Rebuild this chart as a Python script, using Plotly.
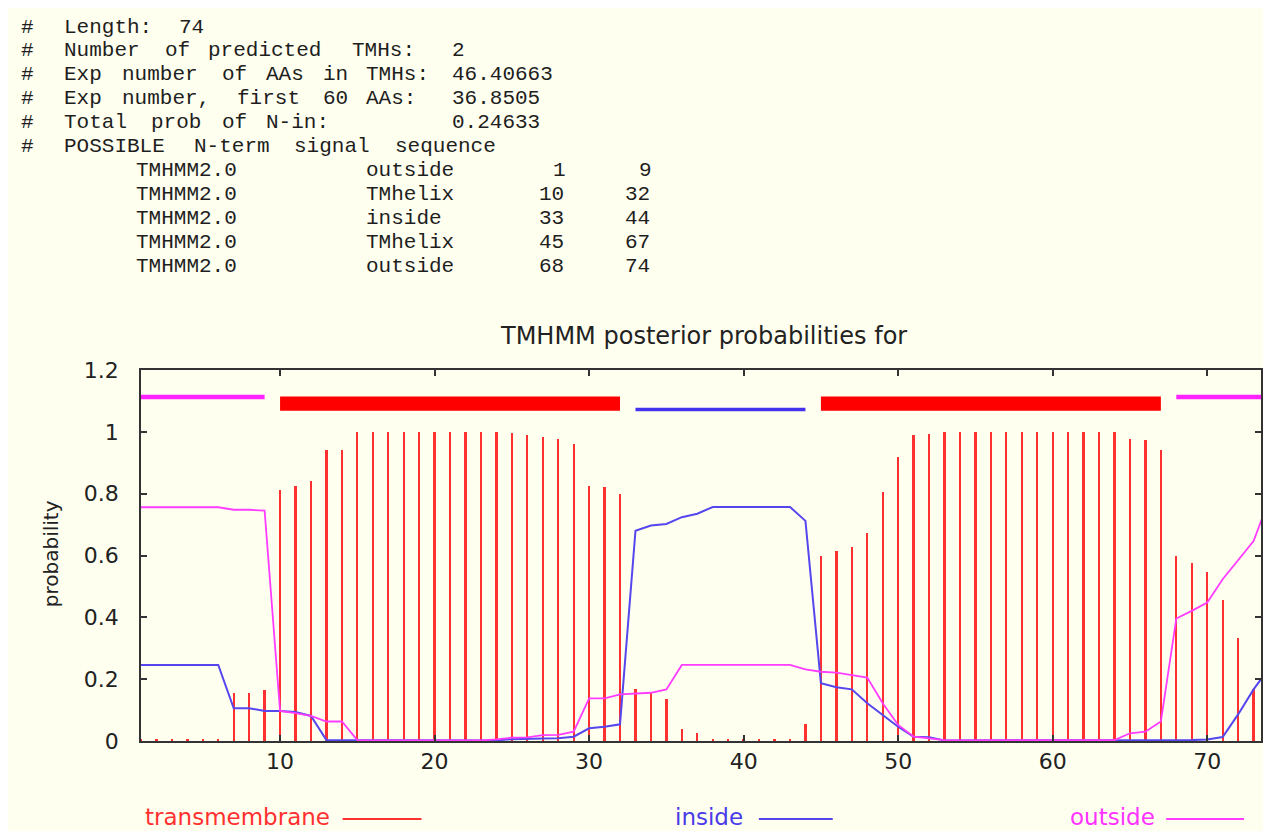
import re
import plotly.graph_objects as go

# ---------------- data ----------------
seq_length = 74
n_tmh = 2
exp_aa_tmh = "46.40663"
exp_first60 = "36.8505"
prob_n_in = "0.24633"

region_types = ["outside", "TMhelix", "inside", "TMhelix", "outside"]
region_starts = [1, 10, 33, 45, 68]
region_ends = [9, 32, 44, 67, 74]

positions = list(range(1, seq_length + 1))

tm_prob = [0.005, 0.005, 0.005, 0.005, 0.005, 0.005, 0.154, 0.154, 0.165, 0.812,
           0.826, 0.841, 0.942, 0.942, 1.0, 1.0, 1.0, 1.0, 1.0, 1.0,
           1.0, 1.0, 1.0, 1.0, 0.995, 0.989, 0.984, 0.978, 0.96, 0.826,
           0.821, 0.80, 0.167, 0.154, 0.135, 0.039, 0.025, 0.006, 0.005, 0.005,
           0.005, 0.005, 0.005, 0.054, 0.597, 0.613, 0.627, 0.673, 0.806, 0.92,
           0.989, 0.994, 0.999, 1.0, 1.0, 1.0, 1.0, 1.0, 1.0, 1.0,
           1.0, 1.0, 1.0, 0.999, 0.978, 0.974, 0.942, 0.60, 0.575, 0.546,
           0.457, 0.334, 0.167, 0.005]

inside_prob = [0.246, 0.246, 0.246, 0.246, 0.246, 0.246, 0.106, 0.106, 0.097, 0.097,
               0.094, 0.081, 0.003, 0.003, 0.002, 0.002, 0.002, 0.002, 0.002, 0.002,
               0.002, 0.002, 0.002, 0.002, 0.006, 0.008, 0.008, 0.009, 0.014, 0.041,
               0.046, 0.054, 0.680, 0.697, 0.702, 0.724, 0.735, 0.757, 0.757, 0.757,
               0.757, 0.757, 0.757, 0.712, 0.187, 0.174, 0.167, 0.122, 0.084, 0.046,
               0.014, 0.012, 0.002, 0.002, 0.002, 0.002, 0.002, 0.002, 0.002, 0.002,
               0.002, 0.002, 0.002, 0.003, 0.003, 0.003, 0.003, 0.003, 0.003, 0.005,
               0.013, 0.086, 0.167, 0.235]

outside_prob = [0.756, 0.756, 0.756, 0.756, 0.756, 0.756, 0.748, 0.748, 0.745, 0.097,
                0.090, 0.081, 0.063, 0.063, 0.003, 0.002, 0.002, 0.002, 0.002, 0.002,
                0.002, 0.002, 0.002, 0.005, 0.011, 0.012, 0.019, 0.020, 0.030, 0.138,
                0.138, 0.151, 0.154, 0.156, 0.167, 0.246, 0.246, 0.246, 0.246, 0.246,
                0.246, 0.246, 0.246, 0.232, 0.224, 0.221, 0.214, 0.205, 0.122, 0.052,
                0.014, 0.009, 0.003, 0.002, 0.002, 0.002, 0.002, 0.002, 0.002, 0.002,
                0.002, 0.002, 0.002, 0.003, 0.025, 0.030, 0.063, 0.396, 0.421, 0.448,
                0.523, 0.585, 0.647, 0.780]

legend_labels = ["transmembrane", "inside", "outside"]

# ---------------- style ----------------
OFF = 8                      # page body margin of the html
W, H = 1263 - OFF, 831 - OFF
ML, MR, MT, MB = 141 - OFF, 0, 370 - OFF, 90
PX_PER_RES = 15.48           # horizontal scale of the reference
CREAM = "#fffff0"
RED = "#ff3030"
BLUE = "#5546ee"
MAGENTA = "#ff3cff"
AXIS = "#333333"
SANS = "DejaVu Sans"
MONO = "Liberation Mono"
COL_W = 14.4                 # width of one character column of the header block
COL_X0 = 19                  # page x of column 0
ROW_Y0, ROW_DY = 27, 23.9    # page y of the first header row and row step

PW = W - ML - MR
PH = H - MT - MB
X_MAX = 1 + PW / PX_PER_RES  # visible part of the residue axis


def pxx(px):
    """page pixel x -> paper x"""
    return (px - OFF - ML) / PW


def pxy(py):
    """page pixel y -> paper y"""
    return (H - MB - (py - OFF)) / PH


fig = go.Figure()
fig.add_bar(x=positions, y=tm_prob, width=0.15,
            marker=dict(color=RED, line=dict(width=0)), name=legend_labels[0])
fig.add_scatter(x=positions, y=inside_prob, mode="lines",
                line=dict(color=BLUE, width=2), name=legend_labels[1])
fig.add_scatter(x=positions, y=outside_prob, mode="lines",
                line=dict(color=MAGENTA, width=1.8), name=legend_labels[2])

shapes = []
# topology bars derived from the region table
for rtype, s, e in zip(region_types, region_starts, region_ends):
    if rtype == "TMhelix":
        shapes.append(dict(type="rect", xref="x", yref="y", x0=s, x1=e,
                           y0=1.068, y1=1.114, fillcolor="#ff0000",
                           line=dict(width=0), layer="above"))
    elif rtype == "inside":
        shapes.append(dict(type="line", xref="x", yref="y", x0=s, x1=e,
                           y0=1.072, y1=1.072, line=dict(color="#4433ee", width=3.5)))
    else:
        shapes.append(dict(type="line", xref="x", yref="y", x0=s, x1=e,
                           y0=1.113, y1=1.113, line=dict(color="#ff22ff", width=4.5)))

annotations = []
# header text block (monospace columns; each word placed on its column)
header_lines = [
    "#  Length: %d" % seq_length,
    "#  Number of predicted TMHs:  %d" % n_tmh,
    "#  Exp number of AAs in TMHs: %s" % exp_aa_tmh,
    "#  Exp number, first 60 AAs:  %s" % exp_first60,
    "#  Total prob of N-in:        %s" % prob_n_in,
    "#  POSSIBLE N-term signal sequence",
]
for rtype, s, e in zip(region_types, region_starts, region_ends):
    header_lines.append(" " * 8 + "TMHMM2.0" + " " * 8 + rtype.ljust(8) + "%6d%6d" % (s, e))

for i, line in enumerate(header_lines):
    for m in re.finditer(r"\S+", line):
        annotations.append(dict(text=m.group(0), xref="paper", yref="paper",
                                x=pxx(COL_X0 + m.start() * COL_W), y=pxy(ROW_Y0 + ROW_DY * i),
                                xanchor="left", yanchor="middle", showarrow=False,
                                font=dict(family=MONO, size=21, color="#1e1e1e")))

# title
annotations.append(dict(text="TMHMM posterior probabilities for", xref="paper", yref="paper",
                        x=pxx(705), y=pxy(336), xanchor="center", yanchor="middle",
                        showarrow=False, font=dict(family=SANS, size=24, color="#222222")))
# y-axis title
annotations.append(dict(text="probability", xref="paper", yref="paper",
                        x=pxx(51), y=pxy(554), xanchor="center", yanchor="middle",
                        textangle=-90, showarrow=False,
                        font=dict(family=SANS, size=20, color="#222222")))

# legend (gnuplot style: label then sample line)
legend_text_x = [145, 676, 1072]
legend_line_x = [(343, 422), (760, 834), (1168, 1246)]
legend_text_col = [RED, "#4a3ae8", "#ff33ff"]
legend_line_col = [RED, BLUE, MAGENTA]
for lab, tx, (lx0, lx1), tc, lc in zip(legend_labels, legend_text_x, legend_line_x,
                                       legend_text_col, legend_line_col):
    annotations.append(dict(text=lab, xref="paper", yref="paper", x=pxx(tx - 2), y=pxy(817),
                            xanchor="left", yanchor="middle", showarrow=False,
                            font=dict(family=SANS, size=23, color=tc)))
    shapes.append(dict(type="line", xref="paper", yref="paper", x0=pxx(lx0), x1=pxx(lx1),
                       y0=pxy(819), y1=pxy(819), line=dict(color=lc, width=2)))

axis_common = dict(showgrid=False, zeroline=False, showline=True, linecolor=AXIS, linewidth=1.5,
                   mirror="ticks", ticks="inside", ticklen=6, tickwidth=1.5, tickcolor=AXIS,
                   tickfont=dict(family=SANS, size=22, color="#222222"))

fig.update_layout(
    width=W, height=H,
    margin=dict(l=ML, r=MR, t=MT, b=MB, pad=0),
    paper_bgcolor=CREAM, plot_bgcolor=CREAM,
    showlegend=False,
    bargap=0,
    xaxis=dict(range=[1, X_MAX], tickvals=[10, 20, 30, 40, 50, 60, 70],
               ticklabelstandoff=0, **axis_common),
    yaxis=dict(range=[0, 1.2], tickvals=[0, 0.2, 0.4, 0.6, 0.8, 1, 1.2],
               ticktext=["0", "0.2", "0.4", "0.6", "0.8", "1", "1.2"],
               ticklabelstandoff=16, **axis_common),
    shapes=shapes,
    annotations=annotations,
)

fig.write_html(
    "out.html",
    post_script="document.documentElement.style.overflow='hidden';",
)
